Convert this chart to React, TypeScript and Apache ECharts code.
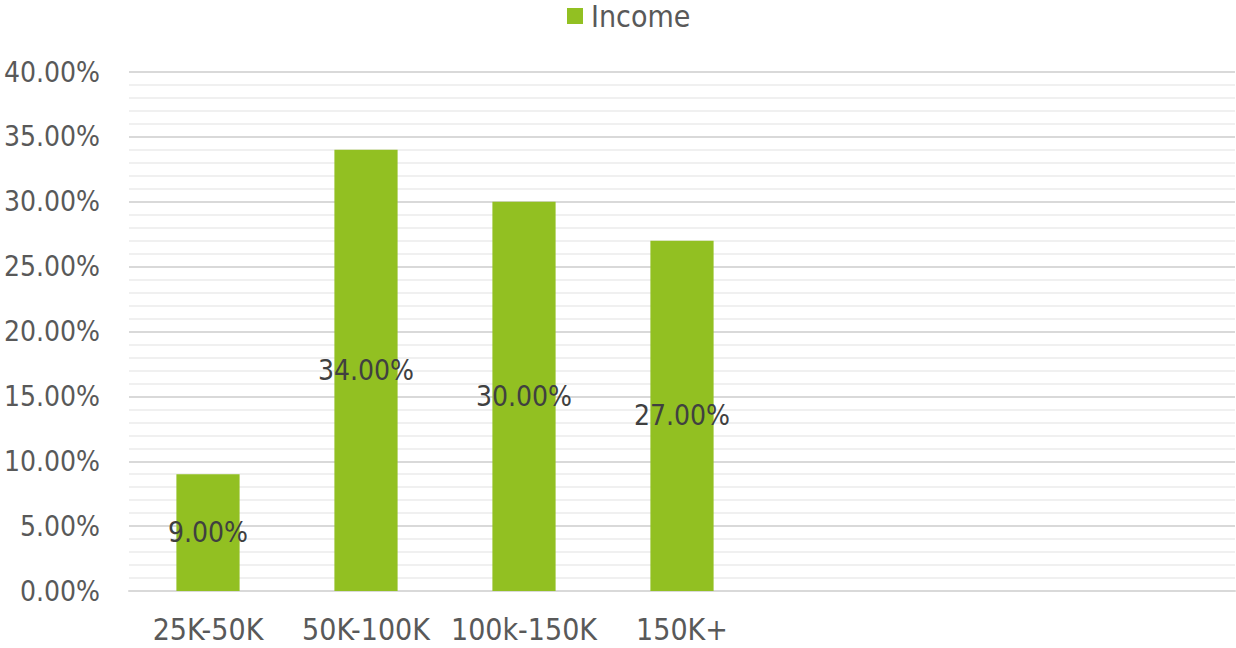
import React, { useEffect, useRef } from "react";
import * as echarts from "echarts";

const categories = ["25K-50K", "50K-100K", "100k-150K", "150K+", "", "", ""];
const incomeValues = [9, 34, 30, 27];
const seriesName = "Income";

const FONT = "'DejaVu Sans Condensed', 'DejaVu Sans', sans-serif";

export default function App() {
  const ref = useRef<HTMLDivElement>(null);
  useEffect(() => {
    if (!ref.current) return;
    const chart = echarts.init(ref.current, null, { renderer: "svg" });
    chart.setOption({
      animation: false,
      textStyle: { fontFamily: FONT },
      legend: {
        data: [seriesName],
        left: 567,
        top: 1,
        padding: 0,
        itemWidth: 16,
        itemHeight: 16,
        itemGap: 8,
        icon: "rect",
        textStyle: {
          fontSize: 30,
          lineHeight: 28,
          color: "#595959",
          fontFamily: FONT,
          padding: [0, 0, 0, 3],
        },
      },
      grid: { left: 129, right: 1, top: 72, bottom: 57, containLabel: false },
      xAxis: {
        type: "category",
        data: categories,
        axisLine: { show: true, lineStyle: { color: "#d9d9d9", width: 2 } },
        axisTick: { show: false },
        axisLabel: { fontSize: 30, color: "#595959", margin: 23, fontFamily: FONT, interval: 0 },
      },
      yAxis: {
        type: "value",
        min: 0,
        max: 40,
        interval: 5,
        axisLine: { show: false },
        axisTick: { show: false },
        axisLabel: {
          fontSize: 28,
          color: "#595959",
          margin: 29,
          fontFamily: FONT,
          formatter: (v: number) => v.toFixed(2) + "%",
        },
        splitLine: { show: true, lineStyle: { color: "#d9d9d9", width: 2 } },
        minorTick: { show: false, splitNumber: 5 },
        minorSplitLine: { show: true, lineStyle: { color: "#f0f0f0", width: 2 } },
      },
      series: [
        {
          name: seriesName,
          type: "bar",
          data: incomeValues,
          barWidth: "40%",
          itemStyle: { color: "#92c022" },
          label: {
            show: true,
            position: "inside",
            fontSize: 28,
            color: "#404040",
            fontFamily: FONT,
            formatter: (p: any) => Number(p.value).toFixed(2) + "%",
          },
        },
      ],
    });
    return () => chart.dispose();
  }, []);
  return (
    <div
      ref={ref}
      style={{ position: "absolute", left: 0, top: 0, width: 1236, height: 648 }}
    />
  );
}
